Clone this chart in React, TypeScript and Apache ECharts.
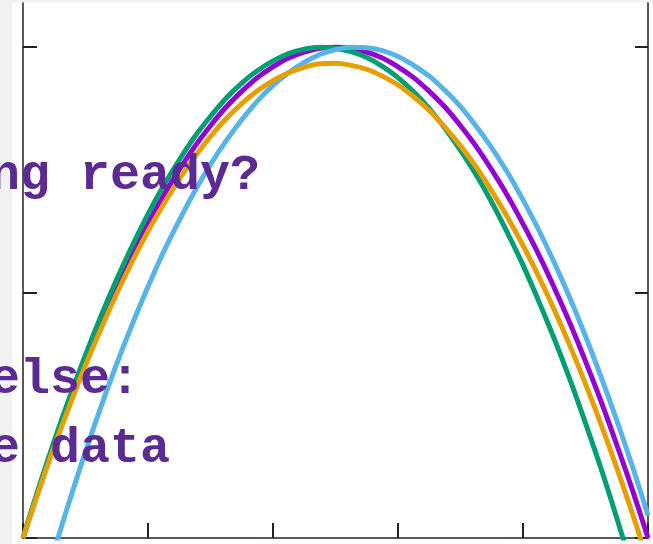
import React, { useEffect, useRef } from "react";
import * as echarts from "echarts";

const xs = [0, 0.125, 0.25, 0.375, 0.5, 0.625, 0.75, 0.875, 1, 1.125, 1.25, 1.375, 1.5, 1.625, 1.75, 1.875, 2, 2.125, 2.25, 2.375, 2.5, 2.625, 2.75, 2.875, 3, 3.125, 3.25, 3.375, 3.5, 3.625, 3.75, 3.875, 4, 4.125, 4.25, 4.375, 4.5, 4.625, 4.75, 4.875, 5];

const purpleY = [0, 0.098, 0.19, 0.278, 0.36, 0.438, 0.51, 0.578, 0.64, 0.698, 0.75, 0.798, 0.84, 0.878, 0.91, 0.938, 0.96, 0.978, 0.99, 0.998, 1.0, 0.998, 0.99, 0.978, 0.96, 0.938, 0.91, 0.878, 0.84, 0.798, 0.75, 0.698, 0.64, 0.578, 0.51, 0.438, 0.36, 0.278, 0.19, 0.098, 0];
const greenY = [0, 0.102, 0.198, 0.288, 0.373, 0.453, 0.527, 0.596, 0.66, 0.718, 0.77, 0.818, 0.859, 0.896, 0.927, 0.952, 0.972, 0.987, 0.996, 1.0, 0.998, 0.991, 0.979, 0.961, 0.938, 0.909, 0.875, 0.835, 0.79, 0.74, 0.684, 0.622, 0.556, 0.483, 0.406, 0.323, 0.234, 0.141, 0.041, -0.064, -0.174];
const blueY = [-0.248, -0.134, -0.025, 0.078, 0.176, 0.268, 0.355, 0.436, 0.512, 0.583, 0.647, 0.707, 0.761, 0.809, 0.852, 0.89, 0.922, 0.948, 0.969, 0.985, 0.995, 1.0, 0.999, 0.993, 0.981, 0.963, 0.941, 0.912, 0.879, 0.839, 0.795, 0.745, 0.689, 0.628, 0.561, 0.489, 0.411, 0.328, 0.24, 0.146, 0.046];
const orangeY = [0, 0.095, 0.186, 0.271, 0.352, 0.427, 0.498, 0.564, 0.625, 0.68, 0.731, 0.777, 0.818, 0.854, 0.885, 0.911, 0.932, 0.948, 0.959, 0.966, 0.967, 0.963, 0.955, 0.941, 0.923, 0.899, 0.871, 0.837, 0.799, 0.756, 0.707, 0.654, 0.596, 0.533, 0.465, 0.392, 0.314, 0.231, 0.143, 0.05, -0.048];

const seriesNames = ["purple", "green", "blue", "orange"];
const seriesColors = ["#9400D3", "#009E73", "#56B4E9", "#E69F00"];
const seriesValues = [purpleY, greenY, blueY, orangeY];

const yTickValues = [0, 0.5, 1];
const textLines = ["ng ready?", "", "", "else:", "e data"];

export default function App() {
  const ref = useRef<HTMLDivElement>(null);
  useEffect(() => {
    if (!ref.current) return;
    const chart = echarts.init(ref.current, undefined, { renderer: "svg" });
    const axisColor = "#222";
    const textEls = textLines
      .map((t, i) => ({ t, i }))
      .filter((o) => o.t.length > 0)
      .map((o) => ({
        type: "text",
        x: -10,
        y: 150 + o.i * 68.25,
        z: 100,
        style: {
          text: o.t,
          fill: "#5B2A92",
          font: "bold 50px 'Liberation Mono', 'Courier New', monospace",
          verticalAlign: "top",
        },
      }));
    chart.setOption({
      animation: false,
      backgroundColor: "#f2f2f2",
      grid: { left: 23, right: 5, top: 3, bottom: 6 },
      xAxis: {
        type: "value",
        min: 0,
        max: 5,
        interval: 1,
        axisLine: { show: true, lineStyle: { color: axisColor, width: 1.5 } },
        axisTick: { show: true, inside: true, length: 15, lineStyle: { color: axisColor, width: 2 } },
        axisLabel: { show: false },
        splitLine: { show: false },
      },
      yAxis: [
        {
          type: "value",
          min: 0,
          max: 1.09,
          position: "left",
          axisLine: { show: true, lineStyle: { color: axisColor, width: 1.5 } },
          axisTick: { show: true, inside: true, length: 14, customValues: yTickValues, lineStyle: { color: axisColor, width: 2 } },
          axisLabel: { show: false },
          splitLine: { show: false },
        },
        {
          type: "value",
          min: 0,
          max: 1.09,
          position: "right",
          axisLine: { show: true, lineStyle: { color: axisColor, width: 1.5 } },
          axisTick: { show: true, inside: true, length: 13, customValues: yTickValues, lineStyle: { color: axisColor, width: 2 } },
          axisLabel: { show: false },
          splitLine: { show: false },
        },
      ],
      graphic: [
        {
          type: "rect",
          z: -10,
          silent: true,
          shape: { x: 12, y: 3, width: 660, height: 560 },
          style: { fill: "#ffffff" },
        },
        ...textEls,
      ],
      series: seriesNames.map((name, si) => ({
        name,
        type: "line",
        smooth: 0.4,
        symbol: "none",
        clip: true,
        yAxisIndex: 0,
        lineStyle: { color: seriesColors[si], width: 5 },
        data: xs.map((x, i) => [x, seriesValues[si][i]]),
      })),
    });
    return () => chart.dispose();
  }, []);
  return (
    <div style={{ position: "fixed", left: 0, top: 0, width: 653, height: 544 }}>
      <div ref={ref} style={{ width: 653, height: 544 }} />
    </div>
  );
}
